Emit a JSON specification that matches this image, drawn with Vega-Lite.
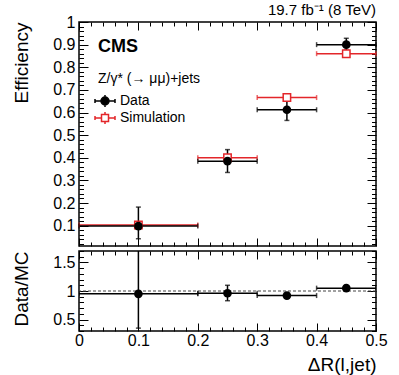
{
  "$schema": "https://vega.github.io/schema/vega-lite/v6.json",
  "autosize": {"type": "pad"},
  "padding": {"left": 12, "top": 2, "right": 24, "bottom": 0},
  "datasets": {
    "eff": [
      {"series": "Simulation", "x": 0.1, "xlo": 0, "xhi": 0.2, "y": 0.103, "ylo": 0.091, "yhi": 0.115},
      {"series": "Simulation", "x": 0.25, "xlo": 0.2, "xhi": 0.3, "y": 0.4, "ylo": 0.388, "yhi": 0.412},
      {"series": "Simulation", "x": 0.35, "xlo": 0.3, "xhi": 0.4, "y": 0.666, "ylo": 0.655, "yhi": 0.677},
      {"series": "Simulation", "x": 0.45, "xlo": 0.4, "xhi": 0.5, "y": 0.86, "ylo": 0.849, "yhi": 0.871},
      {"series": "Data", "x": 0.1, "xlo": 0, "xhi": 0.2, "y": 0.098, "ylo": 0.042, "yhi": 0.182},
      {"series": "Data", "x": 0.25, "xlo": 0.2, "xhi": 0.3, "y": 0.385, "ylo": 0.335, "yhi": 0.436},
      {"series": "Data", "x": 0.35, "xlo": 0.3, "xhi": 0.4, "y": 0.612, "ylo": 0.565, "yhi": 0.654},
      {"series": "Data", "x": 0.45, "xlo": 0.4, "xhi": 0.5, "y": 0.9, "ylo": 0.875, "yhi": 0.928}
    ],
    "ratio": [
      {"x": 0.1, "xlo": 0, "xhi": 0.2, "r": 0.95, "rlo": 0.35, "rhi": 1.9},
      {"x": 0.25, "xlo": 0.2, "xhi": 0.3, "r": 0.96, "rlo": 0.83, "rhi": 1.1},
      {"x": 0.35, "xlo": 0.3, "xhi": 0.4, "r": 0.92, "rlo": 0.89, "rhi": 0.95},
      {"x": 0.45, "xlo": 0.4, "xhi": 0.5, "r": 1.05, "rlo": 1.035, "rhi": 1.065}
    ]
  },
  "config": {
    "font": "Liberation Sans",
    "view": {"stroke": "black", "strokeWidth": 1.5},
    "axis": {"domain": false, "grid": false, "tickColor": "black", "labelColor": "black", "titleColor": "black", "tickWidth": 1, "labelOverlap": false, "labelFlush": false, "titleFontWeight": "normal"}
  },
  "resolve": {"scale": {"color": "independent", "shape": "independent", "fill": "independent", "stroke": "independent"}, "legend": {"color": "independent", "shape": "independent", "fill": "independent", "stroke": "independent"}},
  "vconcat": [
    {
      "width": 297,
      "height": 224,
      "title": {"text": "19.7 fb⁻¹ (8 TeV)", "anchor": "end", "frame": "group", "fontSize": 15, "fontWeight": "normal", "offset": -4, "color": "black"},
      "layer": [
        {
          "data": {"name": "eff"},
          "mark": {"type": "rule", "strokeWidth": 1.5},
          "encoding": {
            "x": {"field": "xlo", "type": "quantitative", "scale": {"domain": [0, 0.5], "nice": false, "zero": false},
              "axis": {"orient": "bottom", "labels": false, "title": null,
                "values": [0,0.02,0.04,0.06,0.08,0.1,0.12,0.14,0.16,0.18,0.2,0.22,0.24,0.26,0.28,0.3,0.32,0.34,0.36,0.38,0.4,0.42,0.44,0.46,0.48,0.5],
                "tickSize": {"condition": {"test": "abs(datum.value*10-round(datum.value*10))<1e-6", "value": -8}, "value": -4}}},
            "x2": {"field": "xhi"},
            "y": {"field": "y", "type": "quantitative", "scale": {"domain": [0.01, 1], "nice": false, "zero": false},
              "axis": {"orient": "left", "title": "Efficiency", "titleFontSize": 19, "titleAnchor": "end", "titlePadding": 21,
                "labelFontSize": 16, "labelPadding": 13,
                "values": [0.02,0.04,0.06,0.08,0.1,0.12,0.14,0.16,0.18,0.2,0.22,0.24,0.26,0.28,0.3,0.32,0.34,0.36,0.38,0.4,0.42,0.44,0.46,0.48,0.5,0.52,0.54,0.56,0.58,0.6,0.62,0.64,0.66,0.68,0.7,0.72,0.74,0.76,0.78,0.8,0.82,0.84,0.86,0.88,0.9,0.92,0.94,0.96,0.98,1],
                "labelExpr": "abs(datum.value*10-round(datum.value*10))<1e-6 ? format(datum.value, '.1~f') : ''",
                "tickSize": {"condition": {"test": "abs(datum.value*10-round(datum.value*10))<1e-6", "value": -9}, "value": -4.5}}},
            "color": {"field": "series", "type": "nominal", "scale": {"domain": ["Simulation", "Data"], "range": ["#e3262a", "black"]}, "legend": null}
          }
        },
        {
          "data": {"name": "eff"},
          "mark": {"type": "rule", "strokeWidth": 1.5},
          "encoding": {
            "x": {"field": "x", "type": "quantitative",
              "axis": {"orient": "top", "labels": false, "title": null,
                "values": [0,0.02,0.04,0.06,0.08,0.1,0.12,0.14,0.16,0.18,0.2,0.22,0.24,0.26,0.28,0.3,0.32,0.34,0.36,0.38,0.4,0.42,0.44,0.46,0.48,0.5],
                "tickSize": {"condition": {"test": "abs(datum.value*10-round(datum.value*10))<1e-6", "value": -8}, "value": -4}}},
            "y": {"field": "ylo", "type": "quantitative",
              "axis": {"orient": "right", "labels": false, "title": null,
                "values": [0.02,0.04,0.06,0.08,0.1,0.12,0.14,0.16,0.18,0.2,0.22,0.24,0.26,0.28,0.3,0.32,0.34,0.36,0.38,0.4,0.42,0.44,0.46,0.48,0.5,0.52,0.54,0.56,0.58,0.6,0.62,0.64,0.66,0.68,0.7,0.72,0.74,0.76,0.78,0.8,0.82,0.84,0.86,0.88,0.9,0.92,0.94,0.96,0.98,1],
                "tickSize": {"condition": {"test": "abs(datum.value*10-round(datum.value*10))<1e-6", "value": -9}, "value": -4.5}}},
            "y2": {"field": "yhi"},
            "color": {"field": "series", "type": "nominal", "legend": null}
          }
        },
        {
          "data": {"name": "eff"},
          "transform": [{"fold": ["xlo", "xhi"], "as": ["end", "xv"]}],
          "mark": {"type": "tick", "orient": "vertical", "size": 5, "thickness": 1.5},
          "encoding": {
            "x": {"field": "xv", "type": "quantitative", "axis": null},
            "y": {"field": "y", "type": "quantitative", "axis": null},
            "color": {"field": "series", "type": "nominal", "legend": null}
          }
        },
        {
          "data": {"name": "eff"},
          "transform": [{"fold": ["ylo", "yhi"], "as": ["end", "yv"]}],
          "mark": {"type": "tick", "orient": "horizontal", "size": 5, "thickness": 1.5},
          "encoding": {
            "x": {"field": "x", "type": "quantitative", "axis": null},
            "y": {"field": "yv", "type": "quantitative", "axis": null},
            "color": {"field": "series", "type": "nominal", "legend": null}
          }
        },
        {
          "data": {"name": "eff"},
          "transform": [{"filter": "datum.series == 'Simulation'"}],
          "mark": {"type": "point", "shape": "square", "size": 55, "filled": true, "fill": "white", "stroke": "#e3262a", "strokeWidth": 1.5, "opacity": 1},
          "encoding": {
            "x": {"field": "x", "type": "quantitative", "axis": null},
            "y": {"field": "y", "type": "quantitative", "axis": null}
          }
        },
        {
          "data": {"name": "eff"},
          "transform": [{"filter": "datum.series == 'Data'"}],
          "mark": {"type": "point", "shape": "circle", "size": 75, "filled": true, "fill": "black", "stroke": "black", "strokeWidth": 0, "opacity": 1},
          "encoding": {
            "x": {"field": "x", "type": "quantitative", "axis": null},
            "y": {"field": "y", "type": "quantitative", "axis": null}
          }
        },
        {
          "data": {"name": "eff"},
          "transform": [{"filter": "datum.x > 1"}],
          "mark": {"type": "point", "filled": true},
          "encoding": {
            "x": {"field": "x", "type": "quantitative", "axis": null},
            "y": {"field": "y", "type": "quantitative", "axis": null},
            "shape": {"field": "series", "type": "nominal",
              "scale": {"domain": ["Data", "Simulation"], "range": ["M-2,0H-0.8M0.8,0H2M-2,-0.4V0.4M2,-0.4V0.4M0,-0.8V-1.2M0,0.8V1.2M0,-0.8A0.8,0.8,0,1,1,0,0.8A0.8,0.8,0,1,1,0,-0.8Z", "M-2,0H-0.7M0.7,0H2M-2,-0.4V0.4M2,-0.4V0.4M0,-0.7V-1.2M0,0.7V1.2M-0.7,-0.7H0.7V0.7H-0.7Z"]},
              "legend": {"orient": "none", "legendX": 19, "legendY": 72, "title": null, "symbolSize": 100, "symbolStrokeWidth": 1.5, "symbolOpacity": 1, "labelFontSize": 14, "labelColor": "black", "labelOffset": 8, "rowPadding": -1}},
            "fill": {"field": "series", "type": "nominal", "scale": {"domain": ["Data", "Simulation"], "range": ["black", "transparent"]}},
            "stroke": {"field": "series", "type": "nominal", "scale": {"domain": ["Data", "Simulation"], "range": ["black", "#e3262a"]}}
          }
        },
        {
          "data": {"values": [{"x": 0.032, "y": 0.867, "text": "CMS"}]},
          "mark": {"type": "text", "fontWeight": "bold", "fontSize": 18, "align": "left", "baseline": "alphabetic", "color": "black"},
          "encoding": {
            "x": {"field": "x", "type": "quantitative", "axis": null},
            "y": {"field": "y", "type": "quantitative", "axis": null},
            "text": {"field": "text"}
          }
        },
        {
          "data": {"values": [{"x": 0.032, "y": 0.73, "text": "Z/γ* (→ μμ)+jets"}]},
          "mark": {"type": "text", "fontSize": 14, "align": "left", "baseline": "alphabetic", "color": "black"},
          "encoding": {
            "x": {"field": "x", "type": "quantitative", "axis": null},
            "y": {"field": "y", "type": "quantitative", "axis": null},
            "text": {"field": "text"}
          }
        }
      ]
    },
    {
      "width": 297,
      "height": 80,
      "layer": [
        {
          "data": {"values": [{"ref": 1}]},
          "mark": {"type": "rule", "strokeDash": [3, 2], "strokeWidth": 1, "color": "#444"},
          "encoding": {
            "y": {"datum": 1, "type": "quantitative", "scale": {"domain": [0.3, 1.7], "nice": false, "zero": false}, "axis": null}
          }
        },
        {
          "data": {"name": "ratio"},
          "mark": {"type": "rule", "strokeWidth": 1.5, "color": "black", "clip": true},
          "encoding": {
            "x": {"field": "xlo", "type": "quantitative", "scale": {"domain": [0, 0.5], "nice": false, "zero": false},
              "axis": {"orient": "bottom", "title": "ΔR(l,jet)", "titleFontSize": 19, "titleAnchor": "end", "titlePadding": 3,
                "labelFontSize": 16, "labelPadding": 9,
                "values": [0,0.02,0.04,0.06,0.08,0.1,0.12,0.14,0.16,0.18,0.2,0.22,0.24,0.26,0.28,0.3,0.32,0.34,0.36,0.38,0.4,0.42,0.44,0.46,0.48,0.5],
                "labelExpr": "abs(datum.value*10-round(datum.value*10))<1e-6 ? format(datum.value, '.1~f') : ''",
                "tickSize": {"condition": {"test": "abs(datum.value*10-round(datum.value*10))<1e-6", "value": -8}, "value": -4}}},
            "x2": {"field": "xhi"},
            "y": {"field": "r", "type": "quantitative",
              "axis": {"orient": "left", "title": "Data/MC", "titleFontSize": 19, "titleAnchor": "end", "titlePadding": 21,
                "labelFontSize": 16, "labelPadding": 13,
                "values": [0.3,0.4,0.5,0.6,0.7,0.8,0.9,1,1.1,1.2,1.3,1.4,1.5,1.6,1.7],
                "labelExpr": "abs(datum.value*2-round(datum.value*2))<1e-6 ? format(datum.value, '.1~f') : ''",
                "tickSize": {"condition": {"test": "abs(datum.value*2-round(datum.value*2))<1e-6", "value": -9}, "value": -4.5}}}
          }
        },
        {
          "data": {"name": "ratio"},
          "mark": {"type": "rule", "strokeWidth": 1.5, "color": "black", "clip": true},
          "encoding": {
            "x": {"field": "x", "type": "quantitative",
              "axis": {"orient": "top", "labels": false, "title": null,
                "values": [0,0.02,0.04,0.06,0.08,0.1,0.12,0.14,0.16,0.18,0.2,0.22,0.24,0.26,0.28,0.3,0.32,0.34,0.36,0.38,0.4,0.42,0.44,0.46,0.48,0.5],
                "tickSize": {"condition": {"test": "abs(datum.value*10-round(datum.value*10))<1e-6", "value": -8}, "value": -4}}},
            "y": {"field": "rlo", "type": "quantitative",
              "axis": {"orient": "right", "labels": false, "title": null,
                "values": [0.3,0.4,0.5,0.6,0.7,0.8,0.9,1,1.1,1.2,1.3,1.4,1.5,1.6,1.7],
                "tickSize": {"condition": {"test": "abs(datum.value*2-round(datum.value*2))<1e-6", "value": -9}, "value": -4.5}}},
            "y2": {"field": "rhi"}
          }
        },
        {
          "data": {"name": "ratio"},
          "transform": [{"fold": ["xlo", "xhi"], "as": ["end", "xv"]}],
          "mark": {"type": "tick", "orient": "vertical", "size": 5, "thickness": 1.5, "color": "black", "clip": true},
          "encoding": {
            "x": {"field": "xv", "type": "quantitative", "axis": null},
            "y": {"field": "r", "type": "quantitative", "axis": null}
          }
        },
        {
          "data": {"name": "ratio"},
          "transform": [{"fold": ["rlo", "rhi"], "as": ["end", "rv"]}],
          "mark": {"type": "tick", "orient": "horizontal", "size": 5, "thickness": 1.5, "color": "black", "clip": true},
          "encoding": {
            "x": {"field": "x", "type": "quantitative", "axis": null},
            "y": {"field": "rv", "type": "quantitative", "axis": null}
          }
        },
        {
          "data": {"name": "ratio"},
          "mark": {"type": "point", "shape": "circle", "size": 75, "filled": true, "fill": "black", "strokeWidth": 0, "opacity": 1},
          "encoding": {
            "x": {"field": "x", "type": "quantitative", "axis": null},
            "y": {"field": "r", "type": "quantitative", "axis": null}
          }
        }
      ]
    }
  ],
  "spacing": 5,
  "bounds": "flush"
}
